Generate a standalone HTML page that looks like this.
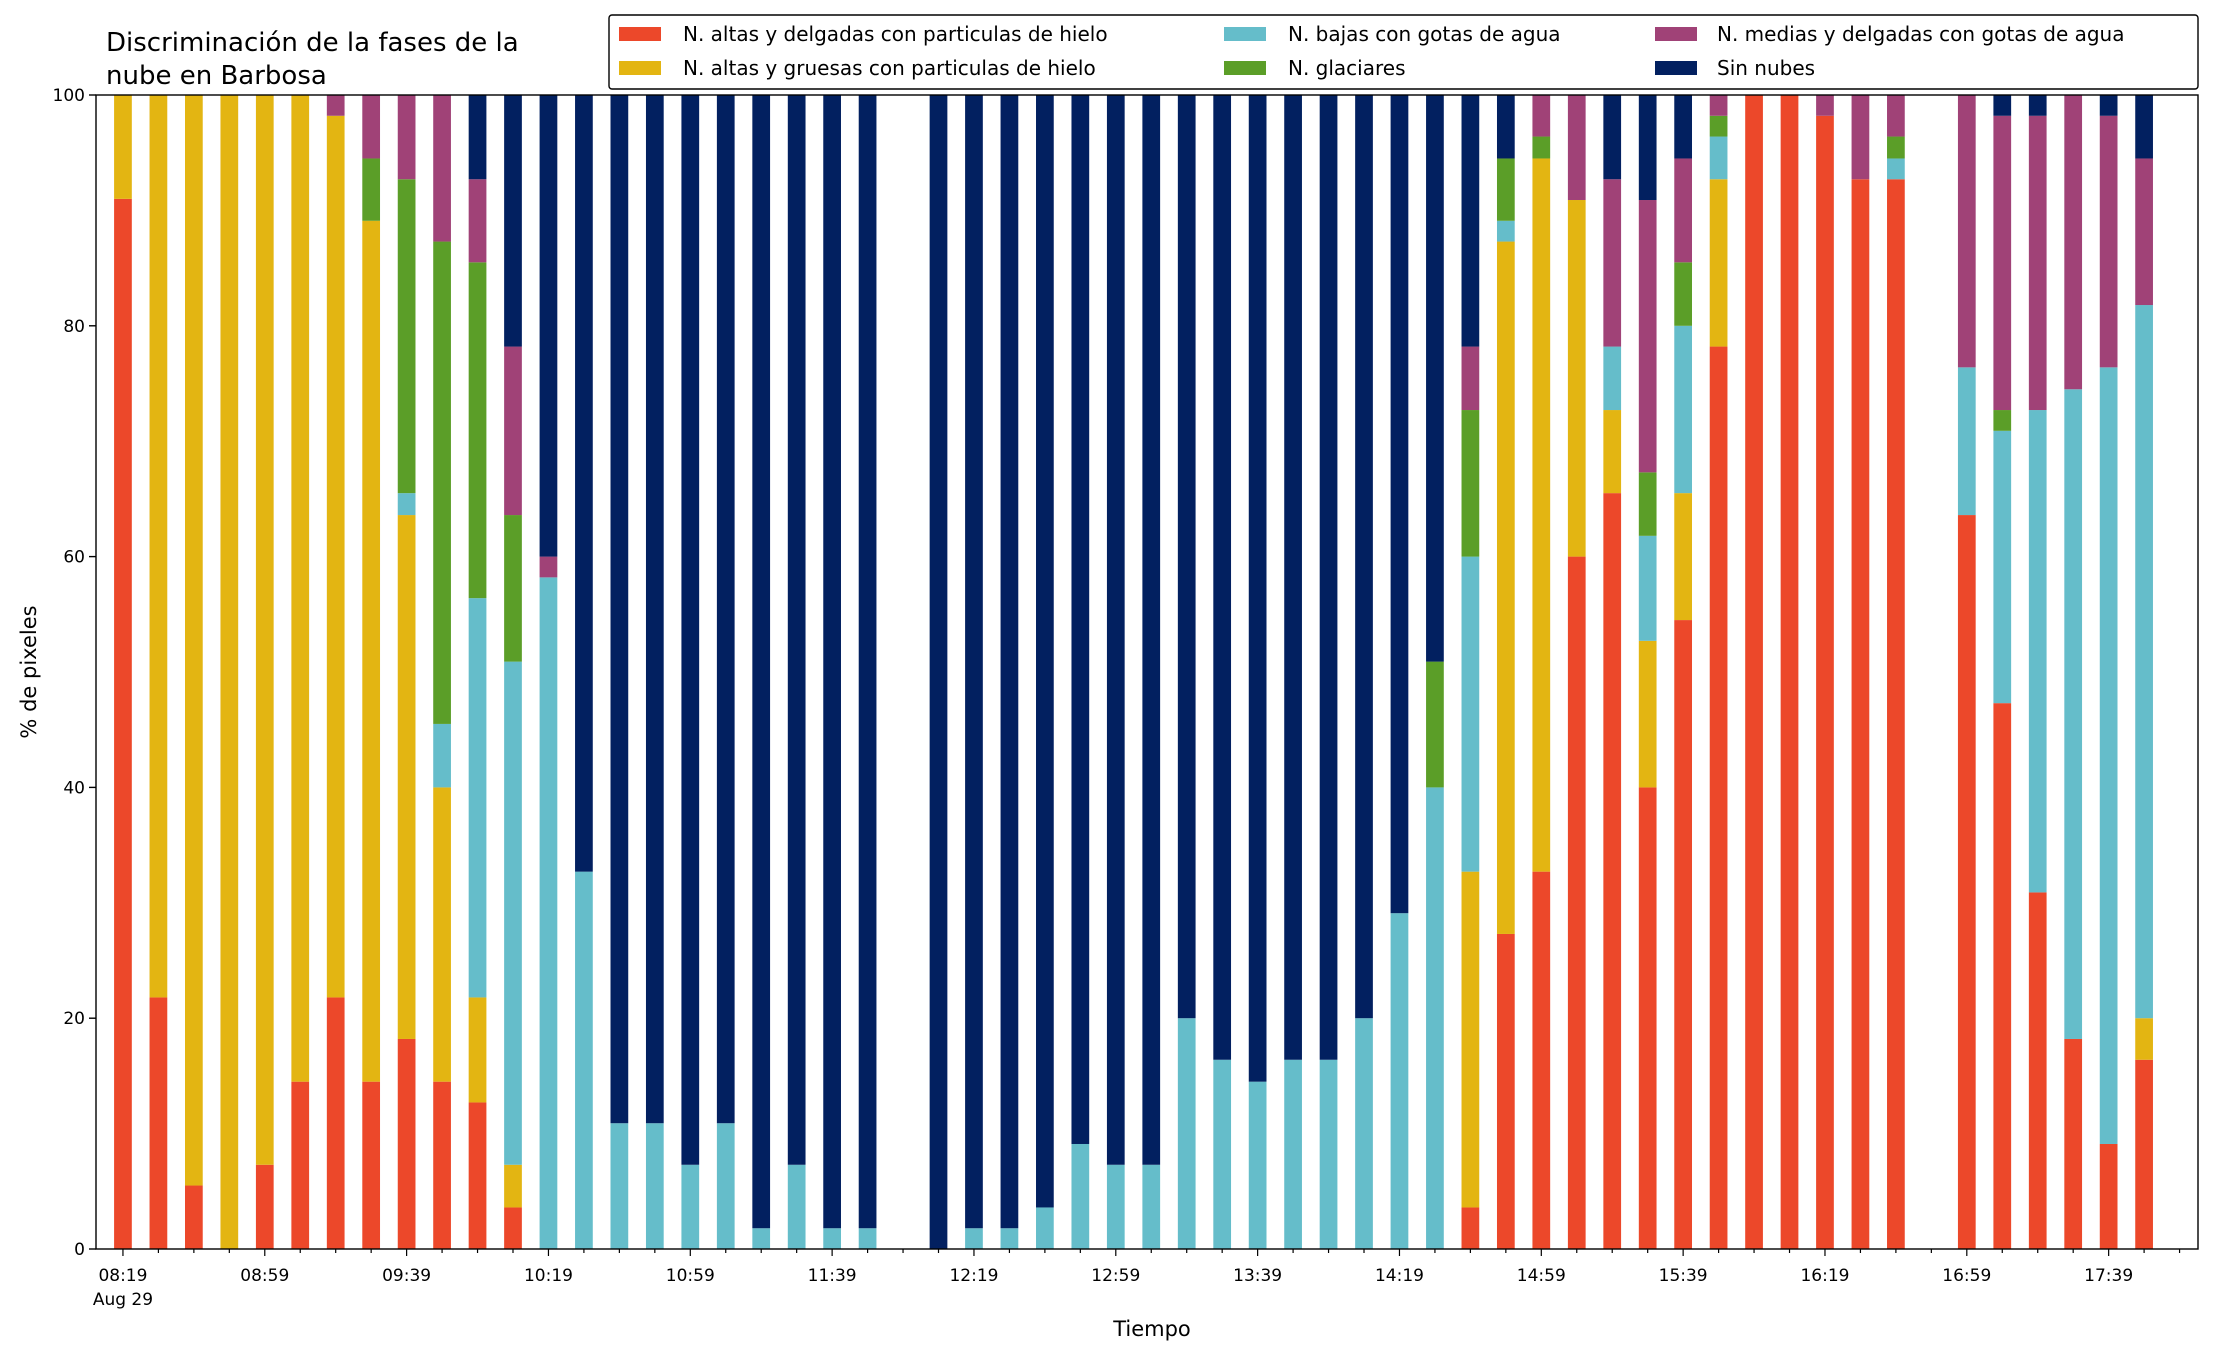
<!DOCTYPE html>
<html><head><meta charset="utf-8"><style>
html,body{margin:0;padding:0;background:#fff;}
svg{display:block;font-family:"DejaVu Sans","Liberation Sans",sans-serif;}
</style></head><body>
<svg id="chart" width="2216" height="1355" viewBox="0 0 2216 1355">
<g id="bars"></g>
<rect x="96" y="95" width="2102" height="1154" fill="none" stroke="#000" stroke-width="1.4"/>
<g id="yaxis"></g>
<g id="xaxis"></g>
<text x="106" y="51" font-size="26">Discriminación de la fases de la</text>
<text x="106" y="84" font-size="26">nube en Barbosa</text>
<text transform="translate(36,672) rotate(-90)" text-anchor="middle" font-size="21">% de pixeles</text>
<text x="1152" y="1336" text-anchor="middle" font-size="21">Tiempo</text>
<g>
<rect x="609" y="15" width="1589" height="74" rx="3" fill="#fff" stroke="#000" stroke-width="1.4"/>
<g id="legend"></g>
</g>
</svg>
<script>
const labels=["08:19","08:29","08:39","08:49","08:59","09:09","09:19","09:29","09:39","09:49","09:59","10:09","10:19","10:29","10:39","10:49","10:59","11:09","11:19","11:29","11:39","11:49","11:59","12:09","12:19","12:29","12:39","12:49","12:59","13:09","13:19","13:29","13:39","13:49","13:59","14:09","14:19","14:29","14:39","14:49","14:59","15:09","15:19","15:29","15:39","15:49","15:59","16:09","16:19","16:29","16:39","16:49","16:59","17:09","17:19","17:29","17:39","17:49"];
const seriesNames=["N. altas y delgadas con particulas de hielo","N. altas y gruesas con particulas de hielo","N. bajas con gotas de agua","N. glaciares","N. medias y delgadas con gotas de agua","Sin nubes"];
const seriesColors=["#ec482a","#e3b512","#65bdca","#5b9e28","#a04277","#022060"];
// cumulative tops per slot (null = no data)
const redTop=[91,21.8,5.5,0,7.3,14.5,21.8,14.5,18.2,14.5,12.7,3.6,0,0,0,0,0,0,0,0,0,0,null,0,0,0,0,0,0,0,0,0,0,0,0,0,0,0,3.6,27.3,32.7,60,65.5,40,54.5,78.2,100,100,98.2,92.7,92.7,null,63.6,47.3,30.9,18.2,9.1,16.4];
const yellowTop=[100,100,100,100,100,100,98.2,89.1,63.6,40,21.8,7.3,0,0,0,0,0,0,0,0,0,0,null,0,0,0,0,0,0,0,0,0,0,0,0,0,0,0,32.7,87.3,94.5,90.9,72.7,52.7,65.5,92.7,100,100,98.2,92.7,92.7,null,63.6,47.3,30.9,18.2,9.1,20];
const cyanTop=[100,100,100,100,100,100,98.2,89.1,65.5,45.5,56.4,50.9,58.2,32.7,10.9,10.9,7.3,10.9,1.8,7.3,1.8,1.8,null,0,1.8,1.8,3.6,9.1,7.3,7.3,20,16.4,14.5,16.4,16.4,20,29.1,40,60,89.1,94.5,90.9,78.2,61.8,80,96.4,100,100,98.2,92.7,94.5,null,76.4,70.9,72.7,74.5,76.4,81.8];
const greenTop=[100,100,100,100,100,100,98.2,94.5,92.7,87.3,85.5,63.6,58.2,32.7,10.9,10.9,7.3,10.9,1.8,7.3,1.8,1.8,null,0,1.8,1.8,3.6,9.1,7.3,7.3,20,16.4,14.5,16.4,16.4,20,29.1,50.9,72.7,94.5,96.4,90.9,78.2,67.3,85.5,98.2,100,100,98.2,92.7,96.4,null,76.4,72.7,72.7,74.5,76.4,81.8];
const purpleTop=[100,100,100,100,100,100,100,100,100,100,92.7,78.2,60,32.7,10.9,10.9,7.3,10.9,1.8,7.3,1.8,1.8,null,0,1.8,1.8,3.6,9.1,7.3,7.3,20,16.4,14.5,16.4,16.4,20,29.1,50.9,78.2,94.5,100,100,92.7,90.9,94.5,100,100,100,100,100,100,null,100,98.2,98.2,100,98.2,94.5];
const navyTop=[100,100,100,100,100,100,100,100,100,100,100,100,100,100,100,100,100,100,100,100,100,100,null,100,100,100,100,100,100,100,100,100,100,100,100,100,100,100,100,100,100,100,100,100,100,100,100,100,100,100,100,null,100,100,100,100,100,100];
const yTicks=[0,20,40,60,80,100];

const NS="http://www.w3.org/2000/svg";
const X0=96,X1=2198,Y0=1249,Y1=95,SMIN=-0.76,SMAX=58.52;
function xs(i){return X0+(i-SMIN)/(SMAX-SMIN)*(X1-X0);}
function ys(v){return Y0-(v/100)*(Y0-Y1);}
function mk(tag,attrs,parent){const e=document.createElementNS(NS,tag);for(const k in attrs)e.setAttribute(k,attrs[k]);parent.appendChild(e);return e;}
const tops=[redTop,yellowTop,cyanTop,greenTop,purpleTop,navyTop];
const keys=["red","yellow","cyan","green","purple","navy"];
const bw=0.5*(xs(1)-xs(0));
const gb=document.getElementById("bars");
for(let i=0;i<labels.length;i++){
  let prev=0;
  for(let s=0;s<tops.length;s++){
    const t=tops[s][i];
    if(t===null||t===undefined)continue;
    if(t>prev){
      const r=mk("rect",{x:xs(i)-bw/2,y:ys(t),width:bw,height:ys(prev)-ys(t),fill:seriesColors[s]},gb);
      
      
    }
    prev=Math.max(prev,t);
  }
}
const ga=document.getElementById("yaxis");
yTicks.forEach(v=>{
  const l=mk("line",{x1:X0-7,x2:X0,y1:ys(v),y2:ys(v),stroke:"#000","stroke-width":1.4},ga);
  
  
  const t=mk("text",{x:X0-11,y:ys(v)+6,"text-anchor":"end","font-size":17},ga);
  t.textContent=v;
  
  
});
const gx=document.getElementById("xaxis");
for(let i=0;i<=58;i++){
  const major=i%4===0;
  const l=mk("line",{x1:xs(i),x2:xs(i),y1:Y0,y2:Y0+(major?7:4),stroke:"#000","stroke-width":1.2},gx);
  
  
  if(major&&i<labels.length){
    const t=mk("text",{x:xs(i),y:1281,"text-anchor":"middle","font-size":17},gx);
    t.textContent=labels[i];
    
    
  }
}
const ad=mk("text",{x:xs(0),y:1305,"text-anchor":"middle","font-size":17},gx);
ad.textContent="Aug 29";


const gl=document.getElementById("legend");
const lx=[619,1224,1655],ly=[34,68],tx=[683,1288,1717];
const order=[0,1,2,3,4,5];
order.forEach((s,k)=>{
  const c=Math.floor(k/2),r=k%2;
  const p=mk("rect",{x:lx[c],y:ly[r]-7,width:42,height:14,fill:seriesColors[s]},gl);
  
  
  const t=mk("text",{x:tx[c],y:ly[r]+7,"font-size":20},gl);
  t.textContent=seriesNames[s];
  
  
});
</script>
</body></html>
